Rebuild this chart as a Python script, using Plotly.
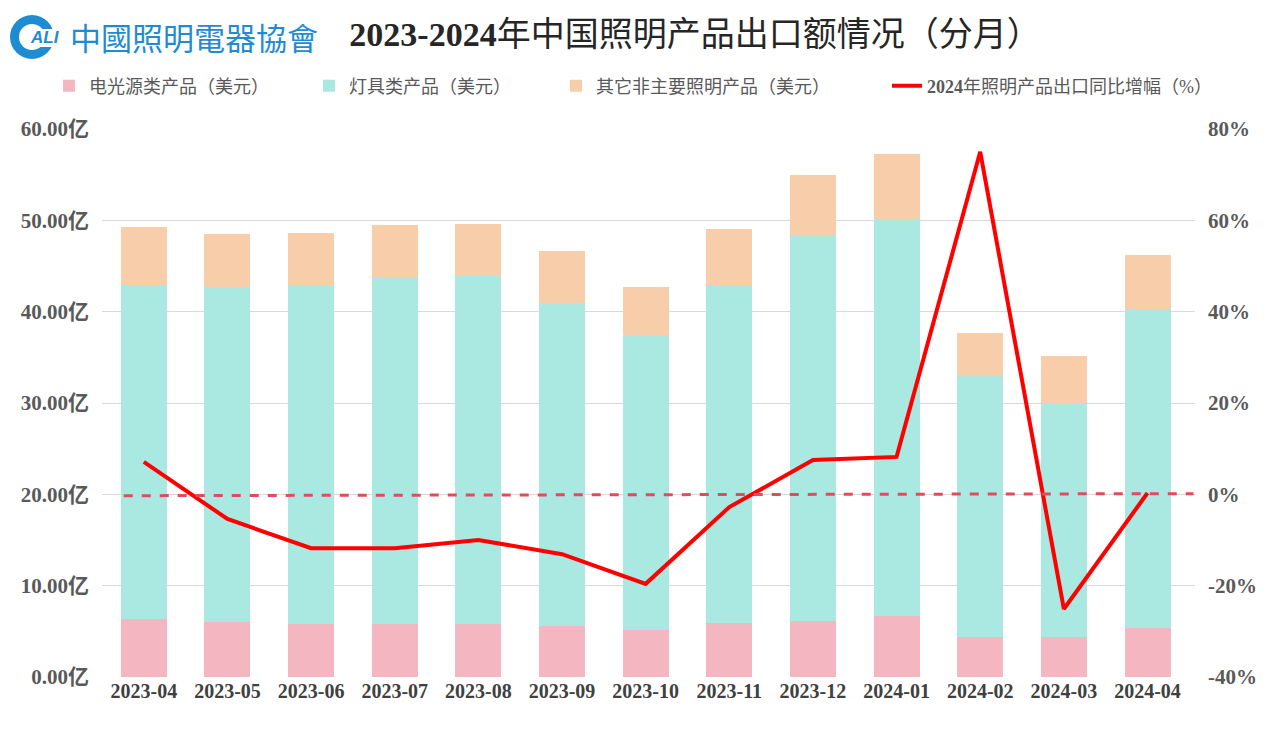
import plotly.graph_objects as go

months = ["2023-04", "2023-05", "2023-06", "2023-07", "2023-08", "2023-09", "2023-10",
          "2023-11", "2023-12", "2024-01", "2024-02", "2024-03", "2024-04"]
# 亿美元
light_source = [6.35, 6.0, 5.8, 5.8, 5.8, 5.6, 5.15, 5.9, 6.1, 6.7, 4.4, 4.4, 5.35]
luminaires = [36.55, 36.7, 37.0, 38.0, 38.1, 35.3, 32.25, 37.0, 42.3, 43.45, 28.56, 25.6, 34.95]
other_lighting = [6.4, 5.8, 5.8, 5.7, 5.7, 5.7, 5.3, 6.15, 6.6, 7.15, 4.74, 5.15, 5.9]
# 同比增幅 %
yoy_growth = [7.1, -5.4, -11.8, -11.8, -10.0, -13.1, -19.6, -2.8, 7.5, 8.2, 75.0, -25.1, 0.3]
# 趋势线（%）
trend_start_end = [-0.3, 0.15]

left_ticks = [0, 10, 20, 30, 40, 50, 60]
right_ticks = [-40, -20, 0, 20, 40, 60, 80]

W, H = 1280, 736
ML, MR, MT, MB = 102, 85, 129, 59
PW, PH = W - ML - MR, H - MT - MB


def px_x(px):
    return (px - ML) / PW


def px_y(py):
    return (H - MB - py) / PH


SERIF = "Liberation Serif, Noto Sans CJK SC, serif"
TICKC = "#595959"

fig = go.Figure()
fig.add_trace(go.Bar(x=months, y=light_source, name="电光源类产品（美元）", legend="legend",
                     showlegend=True,
                     marker=dict(color="#F4B6C0", line=dict(width=0))))
fig.add_trace(go.Bar(x=months, y=luminaires, name="灯具类产品（美元）", legend="legend2",
                     showlegend=True,
                     marker=dict(color="#AAE8E2", line=dict(width=0))))
fig.add_trace(go.Bar(x=months, y=other_lighting, name="其它非主要照明产品（美元）", legend="legend3",
                     showlegend=True,
                     marker=dict(color="#F8CDA9", line=dict(width=0))))
fig.add_trace(go.Scatter(x=months, y=yoy_growth, yaxis="y2", mode="lines", legend="legend4",
                         showlegend=True,
                         name="<b>2024</b>年照明产品出口同比增幅（%）",
                         line=dict(color="#FF0000", width=4)))

# dashed trend line near 0%
fig.add_shape(type="line", xref="x", yref="y2", x0=-0.24, x1=12.55,
              y0=trend_start_end[0], y1=trend_start_end[1],
              line=dict(color="#E24A5E", width=3, dash="dash"), layer="above")

# logo
fig.add_shape(type="circle", xref="paper", yref="paper",
              x0=px_x(10), x1=px_x(54), y0=px_y(59), y1=px_y(15),
              fillcolor="#1E8CD2", line=dict(width=0), layer="above")
fig.add_shape(type="circle", xref="paper", yref="paper",
              x0=px_x(19), x1=px_x(45), y0=px_y(50), y1=px_y(24),
              fillcolor="white", line=dict(width=0), layer="above")
fig.add_shape(type="rect", xref="paper", yref="paper",
              x0=px_x(34), x1=px_x(60), y0=px_y(47), y1=px_y(29),
              fillcolor="white", line=dict(width=0), layer="above")
fig.add_annotation(xref="paper", yref="paper", x=px_x(45), y=px_y(38),
                   xanchor="center", yanchor="middle",
                   text="<b><i>ALI</i></b>", showarrow=False,
                   font=dict(family="Liberation Sans, Arial", size=17, color="#1E8CD2"))
fig.add_annotation(xref="paper", yref="paper", x=px_x(68), y=px_y(36),
                   xanchor="left", yanchor="middle",
                   text="中國照明電器協會", showarrow=False,
                   font=dict(family="Noto Sans CJK TC", size=31, color="#1E8CD2"))


def legend_at(px_left):
    return dict(orientation="h", x=px_x(px_left), xanchor="left", y=px_y(86), yanchor="middle",
                font=dict(family=SERIF, size=18, color=TICKC),
                itemwidth=30, bgcolor="rgba(0,0,0,0)")


fig.update_layout(
    width=W, height=H,
    margin=dict(l=ML, r=MR, t=MT, b=MB),
    paper_bgcolor="white", plot_bgcolor="white",
    barmode="stack", bargap=0.45,
    showlegend=True,
    title=dict(text="<b>2023-2024</b>年中国照明产品出口额情况（分月）",
               x=695 / W, xanchor="center", y=1 - 34 / H, yanchor="middle",
               font=dict(family=SERIF, size=34, color="#262626")),
    legend=legend_at(49),
    legend2=legend_at(309),
    legend3=legend_at(556),
    legend4=legend_at(887),
    xaxis=dict(type="category", showgrid=False, showline=False, ticks="",
               tickfont=dict(family=SERIF, size=20, color="#404040", weight="bold")),
    yaxis=dict(range=[0, 60], tickvals=left_ticks,
               ticktext=[f"{v:.2f}亿" for v in left_ticks],
               showgrid=True, gridcolor="#D9D9D9", gridwidth=1, zeroline=False,
               ticks="", ticklabelstandoff=12,
               tickfont=dict(family=SERIF, size=21, color=TICKC, weight="bold")),
    yaxis2=dict(range=[-40, 80], tickvals=right_ticks,
                ticktext=[f"{v}%" for v in right_ticks],
                overlaying="y", side="right", showgrid=False, zeroline=False,
                ticks="", ticklabelstandoff=12,
                tickfont=dict(family=SERIF, size=21, color=TICKC, weight="bold")),
)

fig.write_html("out.html")
